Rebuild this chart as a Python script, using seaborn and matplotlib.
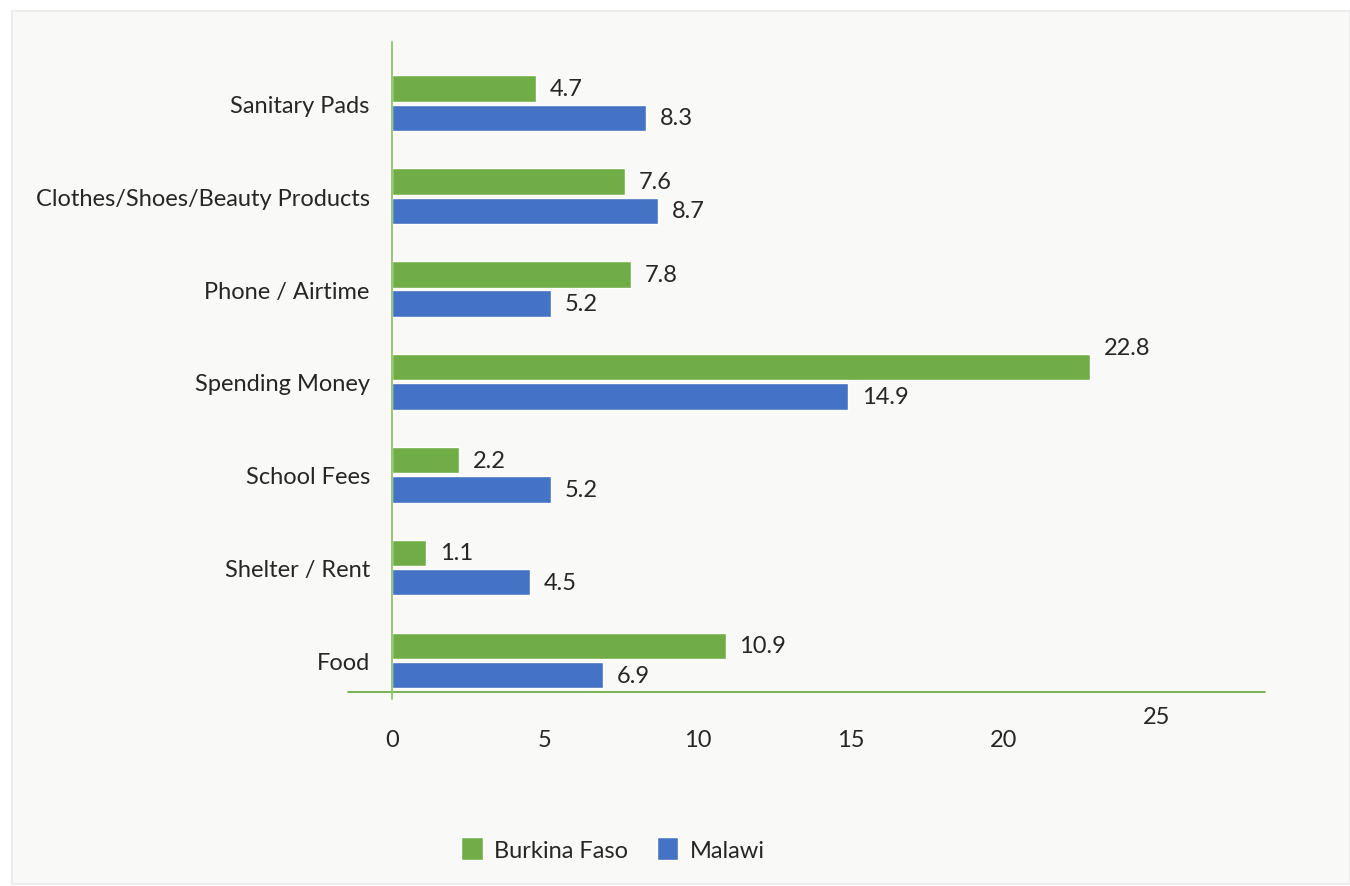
import matplotlib
matplotlib.use("Agg")
import matplotlib.pyplot as plt
from matplotlib.patches import Rectangle
import seaborn as sns
import pandas as pd

categories = ["Sanitary Pads", "Clothes/Shoes/Beauty Products", "Phone / Airtime",
              "Spending Money", "School Fees", "Shelter / Rent", "Food"]
burkina = [4.7, 7.6, 7.8, 22.8, 2.2, 1.1, 10.9]
malawi = [8.3, 8.7, 5.2, 14.9, 5.2, 4.5, 6.9]
series = ["Burkina Faso", "Malawi"]
xticks = [0, 5, 10, 15, 20, 25]

colors = ["#70AD47", "#4472C4"]
bg = "#f9faf7"
txt = "#262626"
fs = 17

df = pd.DataFrame({
    "category": categories * 2,
    "value": burkina + malawi,
    "country": [series[0]] * len(categories) + [series[1]] * len(categories),
})

sns.set_style("white")
plt.rcParams["font.family"] = ["Lato", "DejaVu Sans"]

fig = plt.figure(figsize=(13.5, 8.87), dpi=100)
fig.patch.set_facecolor("white")
fig.patches.append(Rectangle((12 / 1350, 0.002), 1 - 12 / 1350, 1 - 14 / 887,
                             transform=fig.transFigure, facecolor=bg,
                             edgecolor="#ececec", linewidth=1.5, zorder=-10))

# axes starts at the x=0 line; the bottom rule runs a bit further left
ax = fig.add_axes([392 / 1350, 1 - 693 / 887, (1265 - 392) / 1350, (693 - 43) / 887])
ax.patch.set_alpha(0)

sns.barplot(data=df, y="category", x="value", hue="country", orient="h",
            palette=colors, saturation=1, width=0.63, gap=0.1, ax=ax, legend=True)

ax.set_xlim(0, 28.53)
ax.set_ylim(6.34, -0.66)
for s in ax.spines.values():
    s.set_visible(False)
ax.plot([-1.44, 28.53], [6.34, 6.34], color="#70AD47", lw=1.3, clip_on=False)
ax.plot([0, 0], [-0.66, 6.42], color="#8fc46a", lw=1.3, clip_on=False, zorder=5)

ax.set_xlabel("")
ax.set_ylabel("")
ax.set_xticks([])
ax.tick_params(axis="y", length=0, pad=16, labelsize=fs, labelcolor=txt)

# x tick labels drawn as text (the last one sits higher, as in the original)
for t in xticks:
    dy = -34 if t != 25 else -18
    ax.annotate(str(t), xy=(t, 0), xycoords=ax.get_xaxis_transform(),
                xytext=(0, dy), textcoords="offset points", annotation_clip=False,
                ha="center", va="center", fontsize=fs, color=txt)

# value labels
for i, cont in enumerate(ax.containers):
    vals = burkina if i == 0 else malawi
    for bar, v in zip(cont, vals):
        yc = bar.get_y() + bar.get_height() / 2
        dy = 14 if v == max(burkina + malawi) else 0
        ax.annotate(f"{v:.1f}", xy=(v, yc), xytext=(10, dy), textcoords="offset points",
                    ha="left", va="center", fontsize=fs, color=txt)

ax.legend(loc="center", bbox_to_anchor=(613 / 1350, 1 - 850 / 887),
          bbox_transform=fig.transFigure, ncol=2, frameon=False, fontsize=fs,
          handlelength=0.9, handleheight=1.1, handletextpad=0.5, columnspacing=1.2,
          labelcolor=txt)

fig.savefig("out.png", dpi=100, facecolor=fig.get_facecolor())
